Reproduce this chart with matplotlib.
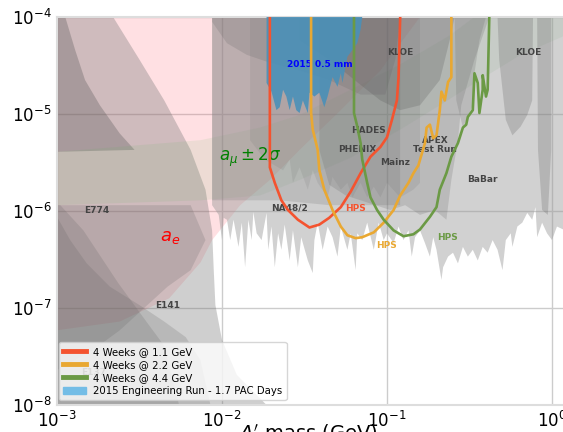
import numpy as np
import matplotlib
matplotlib.use("Agg")
import matplotlib.pyplot as plt
from matplotlib.patches import Patch
from matplotlib.ticker import LogLocator, NullLocator

# All shapes are given as log10(mass / GeV) and log10(epsilon^2).

# HPS reach, 4 weeks of running at three beam energies
hps11_logm = [-1.71, -1.71, -1.68, -1.64, -1.60, -1.54, -1.47, -1.41, -1.35, -1.28,
              -1.22, -1.16, -1.10, -1.04, -1.00, -0.97, -0.94, -0.93, -0.92]
hps11_loge = [-4.00, -5.55, -5.71, -5.89, -5.99, -6.09, -6.17, -6.14, -6.07, -5.96,
              -5.80, -5.61, -5.44, -5.34, -5.24, -5.06, -4.86, -4.62, -4.00]

hps22_logm = [-1.46, -1.46, -1.45, -1.42, -1.41, -1.38, -1.33, -1.28, -1.24, -1.19,
              -1.15, -1.08, -1.02, -0.96, -0.92, -0.87, -0.84, -0.81, -0.77, -0.76,
              -0.74, -0.72, -0.70, -0.68, -0.67, -0.65, -0.63, -0.61, -0.61]
hps22_loge = [-4.00, -4.99, -5.16, -5.37, -5.58, -5.78, -5.99, -6.16, -6.25, -6.28,
              -6.27, -6.22, -6.12, -5.99, -5.84, -5.71, -5.61, -5.53, -5.30, -5.14,
              -5.11, -5.25, -5.22, -4.96, -4.77, -4.86, -4.67, -4.62, -4.00]

hps44_logm = [-1.20, -1.20, -1.18, -1.16, -1.15, -1.12, -1.10, -1.06, -1.02, -0.96,
              -0.90, -0.84, -0.80, -0.74, -0.70, -0.68, -0.64, -0.61, -0.57, -0.54,
              -0.52, -0.51, -0.48, -0.47, -0.45, -0.44, -0.42, -0.42, -0.40, -0.39, -0.38]
hps44_loge = [-4.00, -4.99, -5.13, -5.30, -5.47, -5.71, -5.86, -5.99, -6.09, -6.20,
              -6.26, -6.24, -6.19, -6.06, -5.96, -5.78, -5.61, -5.44, -5.30, -5.14,
              -5.11, -5.03, -4.96, -4.58, -4.68, -4.99, -4.75, -4.60, -4.82, -4.75, -4.00]

# 2015 engineering run, 0.5 mm target position
eng2015_logm = [-1.73, -1.73, -1.70, -1.67, -1.65, -1.63, -1.61, -1.59, -1.57, -1.55,
                -1.53, -1.51, -1.48, -1.47, -1.44, -1.41, -1.38, -1.36, -1.33, -1.30,
                -1.28, -1.27, -1.24, -1.21, -1.18, -1.16, -1.15]
eng2015_loge = [-4.00, -4.68, -4.77, -4.96, -4.93, -4.75, -4.82, -4.96, -4.82, -4.96,
                -4.99, -4.86, -4.99, -4.78, -4.82, -4.78, -4.93, -4.82, -4.62, -4.72,
                -4.58, -4.68, -4.41, -4.34, -4.27, -4.13, -4.00]

# anomalous magnetic moment of the electron (excluded)
ae_logm = [-3.00, -0.80, -1.04, -1.28, -1.53, -1.71, -1.89, -2.06, -2.13, -2.32, -2.62, -3.00]
ae_loge = [-4.00, -4.00, -4.55, -4.96, -5.37, -5.68, -5.94, -6.30, -6.53, -6.90, -7.14, -7.23]

# muon g-2 favoured band
amu_logm = [-3.00, -2.13, -1.77, -1.53, -1.22, -0.92, -0.62, -0.47, 0.08,
            0.08, -0.19, -0.44, -0.68, -0.92, -1.22, -1.53, -1.77, -2.13, -3.00]
amu_loge = [-5.39, -5.27, -5.14, -5.01, -4.75, -4.49, -4.19, -4.00, -4.00,
            -4.19, -4.39, -4.65, -4.91, -5.16, -5.45, -5.68, -5.84, -5.89, -5.94]

# beam dumps
e137_logm = [-3.00, -2.66, -2.50, -2.35, -2.19, -2.10, -2.06, -2.05, -2.04, -2.00,
             -1.91, -1.73, -3.00]
e137_loge = [-4.00, -4.00, -4.44, -4.86, -5.37, -5.78, -6.20, -6.61, -6.97, -7.33,
             -7.69, -8.00, -8.00]
e774_logm = [-3.00, -2.95, -2.89, -2.83, -2.74, -2.62, -2.53, -3.00]
e774_loge = [-4.00, -4.00, -4.34, -4.65, -4.91, -5.20, -5.37, -5.39]
e774low_logm = [-3.00, -2.98, -2.84, -2.63, -2.48, -2.35, -2.26, -3.00]
e774low_loge = [-5.94, -5.94, -6.20, -6.74, -7.09, -7.39, -8.00, -8.00]
e141_logm = [-3.00, -2.92, -2.82, -2.68, -2.50, -2.35, -2.22, -2.13, -2.07, -3.00]
e141_loge = [-6.06, -6.30, -6.54, -6.78, -6.97, -7.14, -7.30, -7.54, -8.00, -8.00]
e141up_logm = [-3.00, -2.19, -2.10, -2.19, -2.33, -2.62, -2.78, -3.00]
e141up_loge = [-5.94, -5.94, -6.30, -6.61, -6.78, -7.23, -7.43, -7.64]

# NA48/2 (upper part) and the combined NA48/2 + BaBar lower edge
na48_logm = [-2.06, -2.06, -1.65, -1.35, -0.92, -0.92]
na48_loge = [-4.00, -5.89, -5.89, -5.94, -5.94, -4.00]
babar_logm = [-2.06, -2.06, -2.02, -2.00, -1.99, -1.97, -1.95, -1.93, -1.90, -1.88,
              -1.86, -1.84, -1.82, -1.81, -1.79, -1.76, -1.73, -1.72, -1.70, -1.68,
              -1.66, -1.64, -1.62, -1.59, -1.57, -1.54, -1.52, -1.48, -1.45, -1.44,
              -1.42, -1.39, -1.36, -1.33, -1.30, -1.28, -1.24, -1.22, -1.19, -1.18,
              -1.15, -1.12, -1.08, -1.05, -1.02, -1.00, -0.96, -0.93, -0.90, -0.87,
              -0.85, -0.83, -0.80, -0.77, -0.74, -0.72, -0.70, -0.67, -0.66, -0.63,
              -0.60, -0.57, -0.54, -0.51, -0.48, -0.45, -0.42, -0.39, -0.36, -0.33,
              -0.30, -0.28, -0.25, -0.24, -0.21, -0.18, -0.15, -0.12, -0.10, -0.09,
              -0.06, -0.03, 0.00, 0.03, 0.08, 0.08]
babar_loge = [-4.00, -5.94, -6.04, -6.30, -6.07, -6.09, -6.30, -6.09, -6.37, -6.12,
              -6.58, -6.09, -6.30, -6.01, -6.23, -6.30, -6.02, -6.40, -6.16, -6.58,
              -6.23, -6.40, -6.14, -6.51, -6.20, -6.58, -6.27, -6.51, -6.64, -6.30,
              -6.12, -6.40, -6.16, -6.27, -6.47, -6.16, -6.40, -6.23, -6.61, -6.23,
              -6.30, -6.12, -6.40, -6.12, -6.30, -6.23, -6.33, -6.16, -6.30, -6.20,
              -6.47, -6.27, -6.20, -6.33, -6.47, -6.27, -6.40, -6.71, -6.58, -6.47,
              -6.43, -6.54, -6.37, -6.47, -6.40, -6.51, -6.37, -6.43, -6.30, -6.40,
              -6.61, -6.30, -6.23, -6.37, -6.16, -6.12, -6.02, -6.09, -5.96, -6.27,
              -6.12, -6.23, -6.30, -6.16, -6.20, -4.00]

# a_mu exclusion, PHENIX / HADES, Mainz / APEX and KLOE
amuex_logm = [-2.06, -2.06, -1.97, -1.85, -1.73, -1.53, -1.35, -1.16, -1.01, -0.95, -0.92]
amuex_loge = [-4.00, -4.05, -4.27, -4.39, -4.46, -4.55, -4.65, -4.80, -4.80, -4.44, -4.00]
phenix_logm = [-1.83, -1.83, -1.74, -1.63, -1.59, -1.57, -1.53, -1.48, -1.45, -1.42,
               -1.36, -1.33, -1.28, -1.24, -1.21, -1.16, -1.12, -1.08, -1.04, -1.00,
               -0.92, -0.84, -0.80, -0.80]
phenix_loge = [-4.00, -5.27, -5.47, -5.58, -5.47, -5.71, -5.55, -5.78, -5.58, -5.71,
               -5.86, -5.65, -5.78, -5.71, -5.86, -5.71, -5.86, -5.75, -5.86, -5.71,
               -5.86, -5.78, -5.71, -4.00]
mainz_logm = [-1.41, -1.41, -1.35, -1.25, -1.16, -1.07, -0.98, -0.89, -0.80, -0.71,
              -0.64, -0.61, -0.57, -0.55, -0.47, -0.38]
mainz_loge = [-4.00, -5.37, -5.73, -5.84, -5.89, -5.94, -5.99, -5.94, -6.04, -5.99,
              -6.09, -5.68, -5.27, -4.91, -4.44, -4.00]
kloe1_logm = [-1.53, -1.53, -1.35, -1.16, -1.04, -0.92, -0.80, -0.68, -0.62, -0.59]
kloe1_loge = [-4.00, -4.24, -4.44, -4.70, -4.86, -4.96, -4.91, -4.65, -4.24, -4.00]
kloe2_logm = [-0.33, -0.32, -0.28, -0.24, -0.19, -0.15, -0.12, -0.115]
kloe2_loge = [-4.00, -4.44, -5.06, -5.22, -5.13, -5.01, -4.86, -4.00]
kloe3_logm = [-0.09, -0.085, -0.06, -0.025, -0.005, -0.005]
kloe3_loge = [-4.00, -5.37, -5.99, -6.04, -5.37, -4.00]
kloe4_logm = [-0.59, -0.58, -0.54, -0.51, -0.48, -0.47, -0.44, -0.40]
kloe4_loge = [-4.00, -4.86, -5.14, -5.03, -4.91, -4.58, -4.24, -4.00]

# experiment names: (text, log10 m, log10 eps^2)
exp_labels = [("KLOE", -0.92, -4.37), ("KLOE", -0.145, -4.37), ("HADES", -1.115, -5.175),
              ("PHENIX", -1.18, -5.37), ("Mainz", -0.95, -5.495),
              ("APEX\nTest Run", -0.71, -5.32), ("BaBar", -0.42, -5.68),
              ("NA48/2", -1.59, -5.97), ("E774", -2.76, -5.99), ("E141", -2.33, -6.97),
              ("E137", -2.78, -7.66)]

legend_labels = ["4 Weeks @ 1.1 GeV", "4 Weeks @ 2.2 GeV", "4 Weeks @ 4.4 GeV",
                 "2015 Engineering Run - 1.7 PAC Days"]

c_red, c_orange, c_green, c_blue = "#f4532f", "#e9a832", "#6b9a45", "#74bde6"

fig = plt.figure(figsize=(5.63, 4.32), dpi=100)
ax = fig.add_axes([57 / 563, 27 / 432, 577.5 / 563, 388 / 432])
ax.set_xscale("log")
ax.set_yscale("log")
ax.set_xlim(1e-3, 10 ** 0.5)
ax.set_ylim(1e-8, 1e-4)


def region(logm, loge, **kw):
    ax.fill(10 ** np.asarray(logm), 10 ** np.asarray(loge), lw=0, **kw)


region(ae_logm, ae_loge, color=(1.0, 0.4, 0.45), alpha=0.2, zorder=1)
region(e137_logm, e137_loge, color="#707070", alpha=0.33, zorder=2)
region(e774_logm, e774_loge, color="#505050", alpha=0.3, zorder=2)
region(e774low_logm, e774low_loge, color="#606060", alpha=0.2, zorder=2)
region(e141_logm, e141_loge, color="#606060", alpha=0.2, zorder=2)
region(e141up_logm, e141up_loge, color="#606060", alpha=0.2, zorder=2)
region(amu_logm, amu_loge, color="#5cb85c", alpha=0.11, zorder=2)
region(babar_logm, babar_loge, color="#999999", alpha=0.45, zorder=2)
region(na48_logm, na48_loge, color="#606060", alpha=0.18, zorder=2)
region(amuex_logm, amuex_loge, color="#606060", alpha=0.2, zorder=2)
region(phenix_logm, phenix_loge, color="#707070", alpha=0.15, zorder=2)
region(mainz_logm, mainz_loge, color="#606060", alpha=0.2, zorder=2)
region(kloe1_logm, kloe1_loge, color="#505050", alpha=0.22, zorder=2)
region(kloe2_logm, kloe2_loge, color="#606060", alpha=0.25, zorder=2)
region(kloe3_logm, kloe3_loge, color="#606060", alpha=0.25, zorder=2)
region(kloe4_logm, kloe4_loge, color="#606060", alpha=0.2, zorder=2)
region(eng2015_logm, eng2015_loge, color="#4a90b8", alpha=0.9, zorder=3)

for txt, lm, le in exp_labels:
    ax.text(10 ** lm, 10 ** le, txt, fontsize=6.5, fontweight="bold", color="#444444",
            ha="center", va="center", linespacing=0.9, zorder=4)
ax.text(10 ** -1.406, 10 ** -4.49, "2015 0.5 mm", fontsize=6.5, fontweight="bold",
        color="blue", ha="center", va="center", zorder=5)
ax.text(10 ** -2.315, 10 ** -6.27, r"$a_e$", fontsize=13, color="red",
        ha="center", va="center", zorder=4)
ax.text(10 ** -1.83, 10 ** -5.45, r"$a_{\mu} \pm 2\sigma$", fontsize=12, color="green",
        ha="center", va="center", zorder=4)
ax.text(10 ** -1.19, 10 ** -5.97, "HPS", fontsize=6.5, fontweight="bold", color=c_red,
        ha="center", va="center", zorder=4)
ax.text(10 ** -1.006, 10 ** -6.36, "HPS", fontsize=6.5, fontweight="bold", color=c_orange,
        ha="center", va="center", zorder=4)
ax.text(10 ** -0.636, 10 ** -6.27, "HPS", fontsize=6.5, fontweight="bold", color=c_green,
        ha="center", va="center", zorder=4)

l1, = ax.plot(10 ** np.asarray(hps11_logm), 10 ** np.asarray(hps11_loge), color=c_red, lw=1.9, zorder=6)
l2, = ax.plot(10 ** np.asarray(hps22_logm), 10 ** np.asarray(hps22_loge), color=c_orange, lw=1.9, zorder=6)
l3, = ax.plot(10 ** np.asarray(hps44_logm), 10 ** np.asarray(hps44_loge), color=c_green, lw=1.9, zorder=6)

handles = [l1, l2, l3, Patch(color=c_blue)]
leg = ax.legend(handles, legend_labels, loc="lower left", bbox_to_anchor=(0.003, 0.012),
                borderaxespad=0, fontsize=7.3, framealpha=0.8, edgecolor="#cccccc",
                handlelength=2.2, labelspacing=0.3, handletextpad=0.7, borderpad=0.45)
leg.set_zorder(10)
for h in leg.get_lines():
    h.set_linewidth(3.5)

ax.xaxis.set_major_locator(LogLocator(base=10, numticks=10))
ax.yaxis.set_major_locator(LogLocator(base=10, numticks=10))
ax.xaxis.set_minor_locator(NullLocator())
ax.yaxis.set_minor_locator(NullLocator())
ax.tick_params(length=0, labelsize=12, pad=4)
ax.set_axisbelow(True)
ax.grid(True, color="#cccccc", lw=1)
for s in ax.spines.values():
    s.set_color("#dddddd")
    s.set_linewidth(1.5)

ax.set_xlabel(r"$A'$ mass (GeV)", fontsize=14)
ax.xaxis.set_label_coords((308 - 57) / 577.5, -0.045)

fig.savefig("out.png", dpi=100)
